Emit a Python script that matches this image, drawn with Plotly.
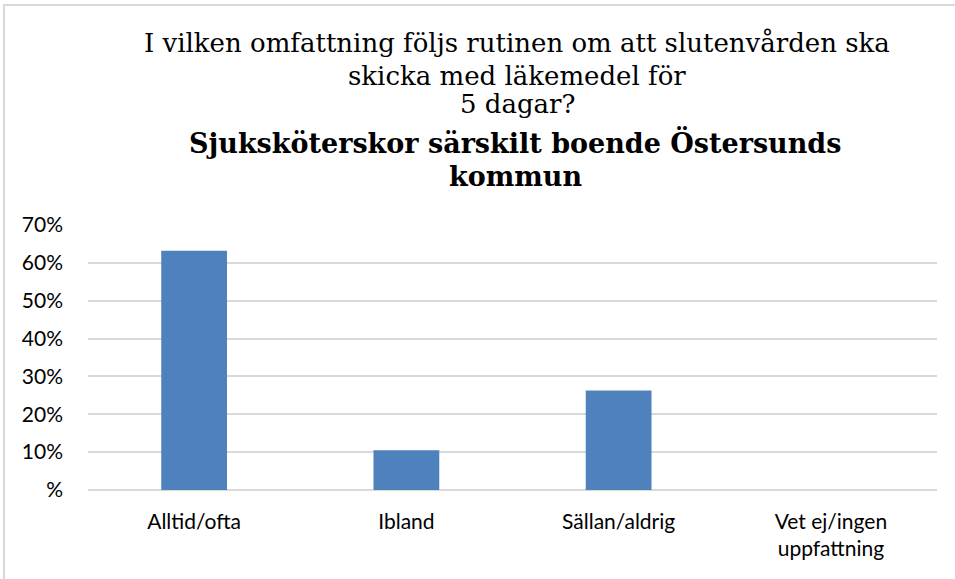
import plotly.graph_objs as go

categories = ["Alltid/ofta", "Ibland", "Sällan/aldrig", "Vet ej/ingen<br>uppfattning"]
values = [63.2, 10.5, 26.3, 0]
tick_vals = [0, 10, 20, 30, 40, 50, 60, 70]
tick_text = ["%", "10%", "20%", "30%", "40%", "50%", "60%", "70%"]

title_lines = ["I vilken omfattning följs rutinen om att slutenvården ska",
               "skicka med läkemedel för",
               "5 dagar?"]
subtitle_lines = ["Sjuksköterskor särskilt boende Östersunds", "kommun"]

W, H = 955, 579
L, R, T, B = 88, 18, 225, 89
ph = H - T - B
pw = W - L - R


def py(y_px):
    # pixel row -> paper y
    return 1 + (T - y_px) / ph


def px(x_px):
    return (x_px - L) / pw


fig = go.Figure()
fig.add_trace(go.Bar(x=categories, y=values, marker=dict(color="#4f81bd", line=dict(width=0)),
                     width=0.31))

annotations = []
for txt, yc in zip(title_lines, [43, 76, 104]):
    annotations.append(dict(text=txt, x=px(517), y=py(yc), xref="paper", yref="paper",
                            xanchor="center", yanchor="middle", showarrow=False,
                            font=dict(family="DejaVu Serif", size=26, color="#000000")))
for txt, yc in zip(subtitle_lines, [142, 176]):
    annotations.append(dict(text="<b>" + txt + "</b>", x=px(515), y=py(yc), xref="paper", yref="paper",
                            xanchor="center", yanchor="middle", showarrow=False,
                            font=dict(family="DejaVu Serif", size=27, color="#000000")))

fig.update_layout(
    width=W, height=H,
    margin=dict(l=L, r=R, t=T, b=B),
    plot_bgcolor="white", paper_bgcolor="white",
    showlegend=False,
    annotations=annotations,
    shapes=[dict(type="rect", xref="paper", yref="paper",
                 x0=px(4), x1=px(W + 20), y0=py(H + 20), y1=py(5),
                 line=dict(color="#d9d9d9", width=2), layer="below")],
    font=dict(family="Lato", size=21, color="#000000"),
)
fig.update_xaxes(showgrid=False, showline=False, ticks="", ticklabelstandoff=17,
                 tickfont=dict(family="Lato", size=21, color="#000000"))
fig.update_yaxes(range=[0, 70], tickvals=tick_vals, ticktext=tick_text,
                 showgrid=True, gridcolor="#d9d9d9", gridwidth=1.5,
                 zeroline=True, zerolinecolor="#d9d9d9", zerolinewidth=1.5,
                 showline=False, ticks="", ticklabelstandoff=24,
                 tickfont=dict(family="Lato", size=21, color="#000000"))

fig.write_html("out.html", config={"displayModeBar": False},
               post_script="document.body.style.margin='0';")
